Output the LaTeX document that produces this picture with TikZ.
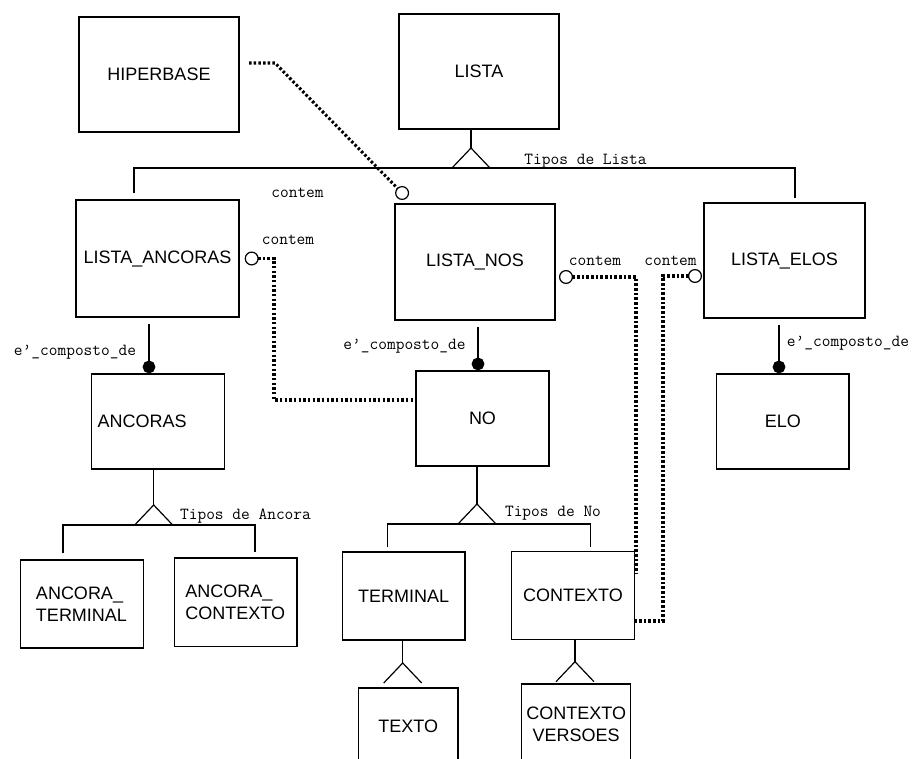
\documentclass[tikz,border=0pt]{standalone}
\usepackage{fontspec}
\setmainfont{Liberation Sans}
\usetikzlibrary{arrows.meta}

\begin{document}
\begin{tikzpicture}[
x=0.75pt, y=-0.75pt,
entity/.style={draw, line width=1.1pt, inner sep=0pt, minimum width=120pt, minimum height=86.25pt, font=\fontsize{13.5}{16.5}\selectfont},
subentity/.style={entity, minimum width=99.5pt, minimum height=71.25pt},
leafentity/.style={entity, minimum width=92pt, minimum height=66pt},
rolelabel/.style={font=\ttfamily\fontsize{12.7}{14}\selectfont, inner sep=0pt},
tree/.style={line width=0.9pt},
composto/.style={line width=2.2pt, shorten <=4.5pt, -{Circle[length=9.5pt]}},
contem/.style={line width=2.3pt, dash pattern=on 1.9pt off 1.6pt},
isa/.pic={\draw[tree] (-19,20) -- (0,0) -- (19,20);}
]
    \useasboundingbox (0,0) rectangle (915,758);

    % entidades
    \node [entity] (hiperbase) at (159,74.5) {HIPERBASE};
    \node [entity] (lista) at (479,71.5) {LISTA};

    \node [entity, minimum width=122.25pt, minimum height=87.75pt] (listaancoras) at (157.5,258.5) {LISTA\_ANCORAS};
    \node [entity, minimum height=87pt] (listanos) at (475,262) {LISTA\_NOS};
    \node [entity, minimum width=120.75pt] (listaelos) at (784.5,260.5) {LISTA\_ELOS};

    \node [subentity, align=left, text width=90.5pt, inner xsep=4.5pt] (ancoras) at (158,421.5) {ANCORAS};
    \node [subentity] (no) at (482.5,418.5) {NO};
    \node [subentity] (elo) at (782.8,421.5) {ELO};

    \node [leafentity, align=left, text width=69pt, inner xsep=11.5pt] (ancoraterminal) at (82,604) {ANCORA\_\\TERMINAL};
    \node [leafentity, align=left, text width=75.5pt, inner xsep=8.1pt, minimum height=66.5pt] (ancoracontexto) at (235.8,602.3) {ANCORA\_\\CONTEXTO};
    \node [leafentity] (terminal) at (403.7,595.8) {TERMINAL};
    \node [leafentity] (contexto) at (573,595.5) {CONTEXTO};

    \node [entity, minimum width=74.8pt, minimum height=57.75pt] (texto) at (408.2,726.7) {TEXTO};
    \node [entity, minimum width=81.75pt, minimum height=60pt, align=center] (contextoversoes) at (576.2,724) {CONTEXTO\\VERSOES};

    % tipos de lista
    \coordinate (isalista) at (471,148);
    \coordinate (barlistaL) at (134,168);
    \coordinate (barlistaR) at (795,168);
    \draw [tree] (isalista |- lista.south) -- (isalista);
    \pic at (isalista) {isa};
    \draw [tree] ([yshift=4.5pt]barlistaL |- listaancoras.north) -- (barlistaL) -- (barlistaR) -- ([yshift=3pt]barlistaR |- listaelos.north);
    \node [rolelabel] (tiposlista) at (585.5,161) {Tipos de Lista};

    % tipos de ancora
    \coordinate (isaancoras) at (153.7,505);
    \coordinate (barancL) at (63,525);
    \coordinate (barancR) at (255,525);
    \draw [tree] (isaancoras |- ancoras.south) -- (isaancoras);
    \pic at (isaancoras) {isa};
    \draw [tree] ([yshift=4.5pt]barancL |- ancoraterminal.north) -- (barancL) -- (barancR) -- ([yshift=4pt]barancR |- ancoracontexto.north);
    \node [rolelabel] (tiposancora) at (245.5,516) {Tipos de Ancora};

    % tipos de no
    \coordinate (isano) at (477,504);
    \coordinate (barnoL) at (387.7,524);
    \coordinate (barnoR) at (590.7,524);
    \draw [tree] (isano |- no.south) -- (isano);
    \pic at (isano) {isa};
    \draw [tree] ([yshift=2.8pt]barnoL |- terminal.north) -- (barnoL) -- (barnoR) -- ([yshift=2.8pt]barnoR |- contexto.north);
    \node [rolelabel] (tiposno) at (553,513) {Tipos de No};

    % subtipos
    \coordinate (isaterminal) at (402.7,663);
    \draw [tree] (isaterminal |- terminal.south) -- (isaterminal);
    \pic at (isaterminal) {isa};
    \coordinate (isacontexto) at (575,661.7);
    \draw [tree] (isacontexto |- contexto.south) -- (isacontexto);
    \pic at (isacontexto) {isa};

    % e'_composto_de
    \coordinate (companc) at (149,0);
    \coordinate (compno) at (478,0);
    \coordinate (compelo) at (779,0);
    \draw [composto] (listaancoras.south -| companc) -- (ancoras.north -| companc);
    \draw [composto] (listanos.south -| compno) -- (no.north -| compno);
    \draw [composto] (listaelos.south -| compelo) -- (elo.north -| compelo);
    \node [rolelabel] (compostoanc) at (75,352) {e’\_composto\_de};
    \node [rolelabel] (compostono) at (404.5,346) {e’\_composto\_de};
    \node [rolelabel] (compostoelo) at (848,343) {e’\_composto\_de};

    % contem
    \coordinate (hbstart) at (249,63);
    \coordinate (hbbend) at (275,63);
    \coordinate (hbend) at (407,198);
    \draw [contem, -{Circle[open, length=10.5pt, line width=0.9pt]}] (hbstart) -- (hbbend) -- (hbend);
    \node [rolelabel] (contemhb) at (297.5,193) {contem};

    \coordinate (ancbend) at (274,400);
    \draw [contem, {Circle[open, length=10.5pt, line width=0.9pt]}-] ([xshift=3.7pt]listaancoras.east) -| (ancbend) -- (ancbend -| no.west);
    \node [rolelabel] (contemanc) at (288,240) {contem};

    \coordinate (nosstart) at (559,277);
    \coordinate (nosend) at (636,573);
    \draw [contem, {Circle[open, length=10.5pt, line width=0.9pt]}-] (nosstart) -| (nosend);
    \node [rolelabel] (contemnos) at (595,261) {contem};

    \coordinate (elostart) at (702,276);
    \coordinate (elobend) at (663,621);
    \draw [contem, {Circle[open, length=10.5pt, line width=0.9pt]}-] (elostart) -| (elobend) -- (elobend -| contexto.east);
    \node [rolelabel] (contemelo) at (670.5,261) {contem};
\end{tikzpicture}
\end{document}
